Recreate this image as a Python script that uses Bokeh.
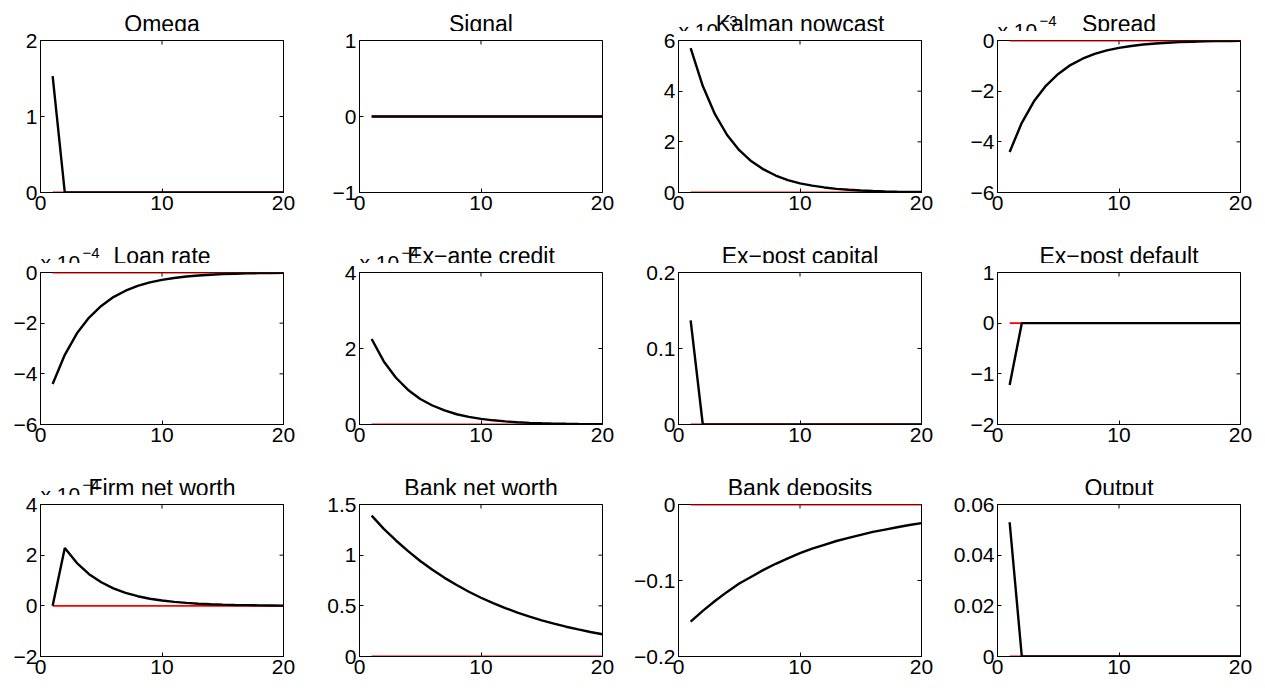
from bokeh.plotting import figure
from bokeh.models import Range1d, FixedTicker, Label, CustomJSTickFormatter
from bokeh.layouts import column, row
from bokeh.embed import file_html
from bokeh.resources import INLINE

# ---------------- data ----------------
periods = list(range(1, 21))
x_ticks = [0, 10, 20]

titles = ["Omega", "Signal", "Kalman nowcast", "Spread",
          "Loan rate", "Ex\u2212ante credit", "Ex\u2212post capital", "Ex\u2212post default",
          "Firm net worth", "Bank net worth", "Bank deposits", "Output"]

omega = [1.53] + [0.0] * 19
signal = [0.0] * 20
kalman_nowcast_e3 = [5.7, 4.2, 3.09, 2.27, 1.67, 1.23, 0.91, 0.67, 0.49, 0.36,
                     0.27, 0.20, 0.145, 0.107, 0.079, 0.058, 0.043, 0.031, 0.023, 0.017]
spread_e4 = [-4.4, -3.25, -2.4, -1.78, -1.32, -0.97, -0.72, -0.53, -0.39, -0.29,
             -0.215, -0.16, -0.118, -0.087, -0.064, -0.047, -0.035, -0.026, -0.019, -0.014]
loan_rate_e4 = [-4.4, -3.25, -2.4, -1.78, -1.32, -0.97, -0.72, -0.53, -0.39, -0.29,
                -0.215, -0.16, -0.118, -0.087, -0.064, -0.047, -0.035, -0.026, -0.019, -0.014]
ex_ante_credit_e4 = [2.25, 1.66, 1.23, 0.91, 0.67, 0.50, 0.37, 0.27, 0.20, 0.148,
                     0.11, 0.081, 0.06, 0.044, 0.033, 0.024, 0.018, 0.013, 0.01, 0.007]
ex_post_capital = [0.137] + [0.0] * 19
ex_post_default = [-1.22] + [0.0] * 19
firm_net_worth_e4 = [0.0, 2.28, 1.69, 1.25, 0.93, 0.69, 0.51, 0.38, 0.28, 0.21,
                     0.155, 0.115, 0.085, 0.063, 0.047, 0.035, 0.026, 0.019, 0.014, 0.01]
bank_net_worth = [1.39, 1.26, 1.145, 1.04, 0.943, 0.856, 0.776, 0.705, 0.639, 0.58,
                  0.527, 0.478, 0.434, 0.394, 0.357, 0.324, 0.294, 0.267, 0.242, 0.22]
bank_deposits = [-0.154, -0.14, -0.127, -0.115, -0.104, -0.095, -0.086, -0.078, -0.071, -0.064,
                 -0.058, -0.053, -0.048, -0.044, -0.04, -0.036, -0.033, -0.03, -0.027, -0.0245]
output = [0.053] + [0.0] * 19
steady_state = [0.0] * 20

series = [omega, signal, kalman_nowcast_e3, spread_e4,
          loan_rate_e4, ex_ante_credit_e4, ex_post_capital, ex_post_default,
          firm_net_worth_e4, bank_net_worth, bank_deposits, output]
y_limits = [(0, 2), (-1, 1), (0, 6), (-6, 0),
            (-6, 0), (0, 4), (0, 0.2), (-2, 1),
            (-2, 4), (0, 1.5), (-0.2, 0), (0, 0.06)]
y_ticks = [[0, 1, 2], [-1, 0, 1], [0, 2, 4, 6], [-6, -4, -2, 0],
           [-6, -4, -2, 0], [0, 2, 4], [0, 0.1, 0.2], [-2, -1, 0, 1],
           [-2, 0, 2, 4], [0, 0.5, 1, 1.5], [-0.2, -0.1, 0], [0, 0.02, 0.04, 0.06]]
exponents = [None, None, "\u22123", "\u22124",
             "\u22124", "\u22124", None, None,
             "\u22124", None, None, None]

# ---------------- layout ----------------
# (width, min_border_left, min_border_right)
cols = [(313, 40, 30), (307, 46, 18), (330, 58, 29), (314, 47, 24)]
HEADER_H = 31
PLOT_TOP = 9
FRAME_W = 243
FRAME_H = 152
# bottom border for each row of plots
bottoms = [40, 40, 32]

FONT = "Liberation Sans"
FS = "21px"
TITLE_FS = "23px"
fmt = CustomJSTickFormatter(code="return tick.toString().replace('-', '\u2212');")


def style_axis(ax, ticks):
    ax.ticker = FixedTicker(ticks=ticks)
    ax.minor_tick_line_color = None
    ax.major_tick_in = 4
    ax.major_tick_out = 0
    ax.major_tick_line_color = "black"
    ax.major_tick_line_width = 1
    ax.formatter = fmt
    ax.major_label_text_font = FONT
    ax.major_label_text_font_size = FS
    ax.major_label_text_color = "black"
    ax.major_label_standoff = 3
    ax.axis_line_color = "black"


def header(i, w, bl):
    # a strip figure whose frame fills the whole canvas: 1 data unit = 1 pixel
    h = figure(width=w, height=HEADER_H, x_range=Range1d(0, w), y_range=Range1d(0, HEADER_H),
               output_backend="svg", toolbar_location=None, tools="",
               x_axis_location=None, y_axis_location=None,
               min_border_left=0, min_border_right=0, min_border_top=0, min_border_bottom=0)
    h.grid.visible = False
    h.outline_line_color = None
    h.background_fill_color = "white"
    h.border_fill_color = "white"
    common = dict(text_baseline="alphabetic", text_font=FONT, text_color="black")
    if exponents[i]:
        h.add_layout(Label(x=bl, y=10 - PLOT_TOP, text="x 10", text_align="left",
                           text_font_size=FS, **common))
        h.add_layout(Label(x=bl + 42, y=20 - PLOT_TOP, text=exponents[i], text_align="left",
                           text_font_size="15px", **common))
    h.add_layout(Label(x=bl + FRAME_W / 2, y=17 - PLOT_TOP, text=titles[i],
                       text_align="center", text_font_size=TITLE_FS, **common))
    return h


blocks = []
for r in range(3):
    heads = []
    figs = []
    for c in range(4):
        i = r * 4 + c
        w, bl, br = cols[c]
        bb = bottoms[r]
        y0, y1 = y_limits[i]
        heads.append(header(i, w, bl))
        p = figure(width=w, height=PLOT_TOP + FRAME_H + bb, x_range=Range1d(0, 20),
                   y_range=Range1d(y0, y1),
                   output_backend="svg", toolbar_location=None, tools="",
                   min_border_left=bl, min_border_right=br,
                   min_border_top=PLOT_TOP, min_border_bottom=bb)
        p.grid.visible = False
        p.outline_line_color = "black"
        p.outline_line_width = 1
        p.background_fill_color = "white"
        p.border_fill_color = "white"
        style_axis(p.xaxis[0], x_ticks)
        style_axis(p.yaxis[0], y_ticks[i])

        # mirror ticks on top and right edges (half of each dash is clipped away)
        p.scatter(x_ticks, [y1] * len(x_ticks), marker="dash", angle=1.5708, size=8,
                  line_color="black", line_width=1)
        p.scatter([20] * len(y_ticks[i]), y_ticks[i], marker="dash", size=8,
                  line_color="black", line_width=1)

        p.line(periods, steady_state, line_color="#ff0000", line_width=1.8)
        p.line(periods, series[i], line_color="black", line_width=2.4)
        figs.append(p)
    blocks.append(row(*heads))
    blocks.append(row(*figs))

layout = column(*blocks)
open("out.html", "w").write(file_html(layout, INLINE))
